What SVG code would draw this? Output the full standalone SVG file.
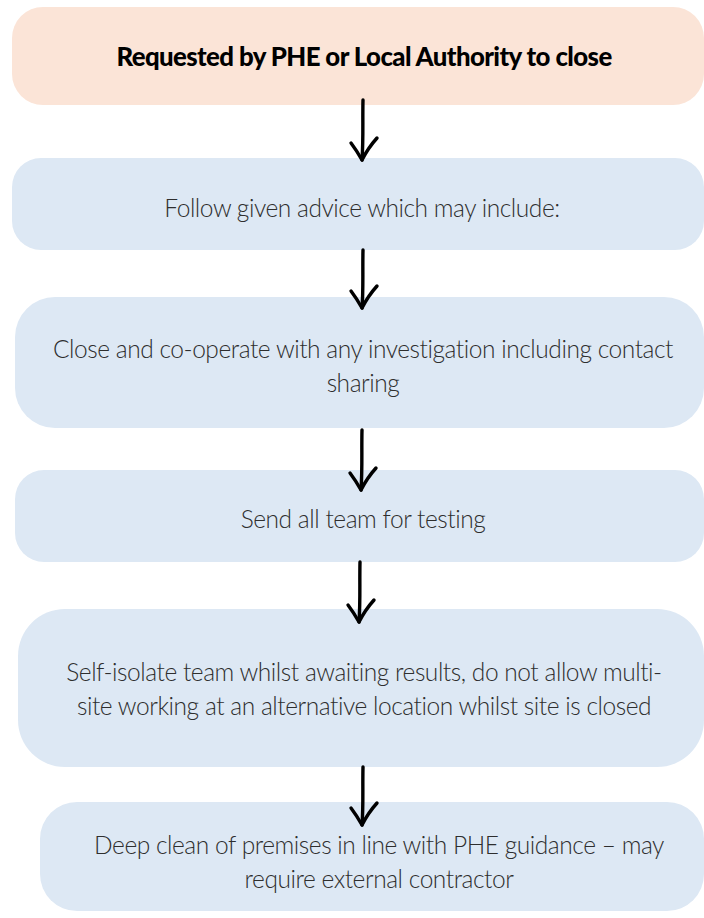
<svg xmlns="http://www.w3.org/2000/svg" width="704" height="918" viewBox="0 0 704 918">
  <defs>
    <style>
      .peach { fill: #fbe4d7; }
      .blue { fill: #dde8f4; }
      .head { font-family: Lato, "Liberation Sans", sans-serif; font-weight: 900; font-size: 25.8px; letter-spacing: -0.6px; fill: #000; text-anchor: middle; }
      .body { font-family: Lato, "Liberation Sans", sans-serif; font-weight: 300; font-size: 24.5px; letter-spacing: -0.45px; fill: #2e2e2e; text-anchor: middle; }
      .arrow { fill: none; stroke: #000; stroke-width: 3.4; stroke-linecap: round; stroke-linejoin: round; }
    </style>
  </defs>
  <rect width="704" height="918" fill="#ffffff"/>

  <g id="node1">
    <rect class="peach" x="12" y="7" width="692" height="98" rx="31" ry="31"/>
    <text class="head" x="364" y="66">Requested by PHE or Local Authority to close</text>
  </g>

  <g id="node2">
    <rect class="blue" x="12" y="158" width="692" height="92" rx="29" ry="29"/>
    <text class="body" x="362" y="217">Follow given advice which may include:</text>
  </g>

  <g id="node3">
    <rect class="blue" x="15" y="297" width="689" height="131" rx="40" ry="40"/>
    <text class="body" x="363" y="358">Close and co-operate with any investigation including contact</text>
    <text class="body" x="363" y="392">sharing</text>
  </g>

  <g id="node4">
    <rect class="blue" x="15" y="470" width="689" height="92" rx="29" ry="29"/>
    <text class="body" x="363" y="528">Send all team for testing</text>
  </g>

  <g id="node5">
    <rect class="blue" x="18" y="609" width="686" height="158" rx="47" ry="47"/>
    <text class="body" x="364" y="681">Self-isolate team whilst awaiting results, do not allow multi-</text>
    <text class="body" x="364" y="715">site working at an alternative location whilst site is closed</text>
  </g>

  <g id="node6">
    <rect class="blue" x="40" y="802" width="664" height="109" rx="37" ry="37"/>
    <text class="body" x="379" y="854">Deep clean of premises in line with PHE guidance – may</text>
    <text class="body" x="379" y="888">require external contractor</text>
  </g>

  <g id="connectors">
    <path class="arrow" d="M363 100 C362.5 120 363.5 140 362 160"/>
    <path class="arrow" d="M351 143 Q357 151 362 160 Q368 148 377 138"/>

    <path class="arrow" d="M363 250 C362.5 270 363.5 290 362 308"/>
    <path class="arrow" d="M351 291 Q357 299 362 308 Q368 296 377 286"/>

    <path class="arrow" d="M362 430 C361.5 450 362.5 470 361 490"/>
    <path class="arrow" d="M350 473 Q356 481 361 490 Q367 478 376 468"/>

    <path class="arrow" d="M360 562 C359.5 582 360.5 602 359 622"/>
    <path class="arrow" d="M348 605 Q354 613 359 622 Q365 610 374 600"/>

    <path class="arrow" d="M363 767 C362.5 787 363.5 807 362 825"/>
    <path class="arrow" d="M351 808 Q357 816 362 825 Q368 813 377 803"/>
  </g>
</svg>
